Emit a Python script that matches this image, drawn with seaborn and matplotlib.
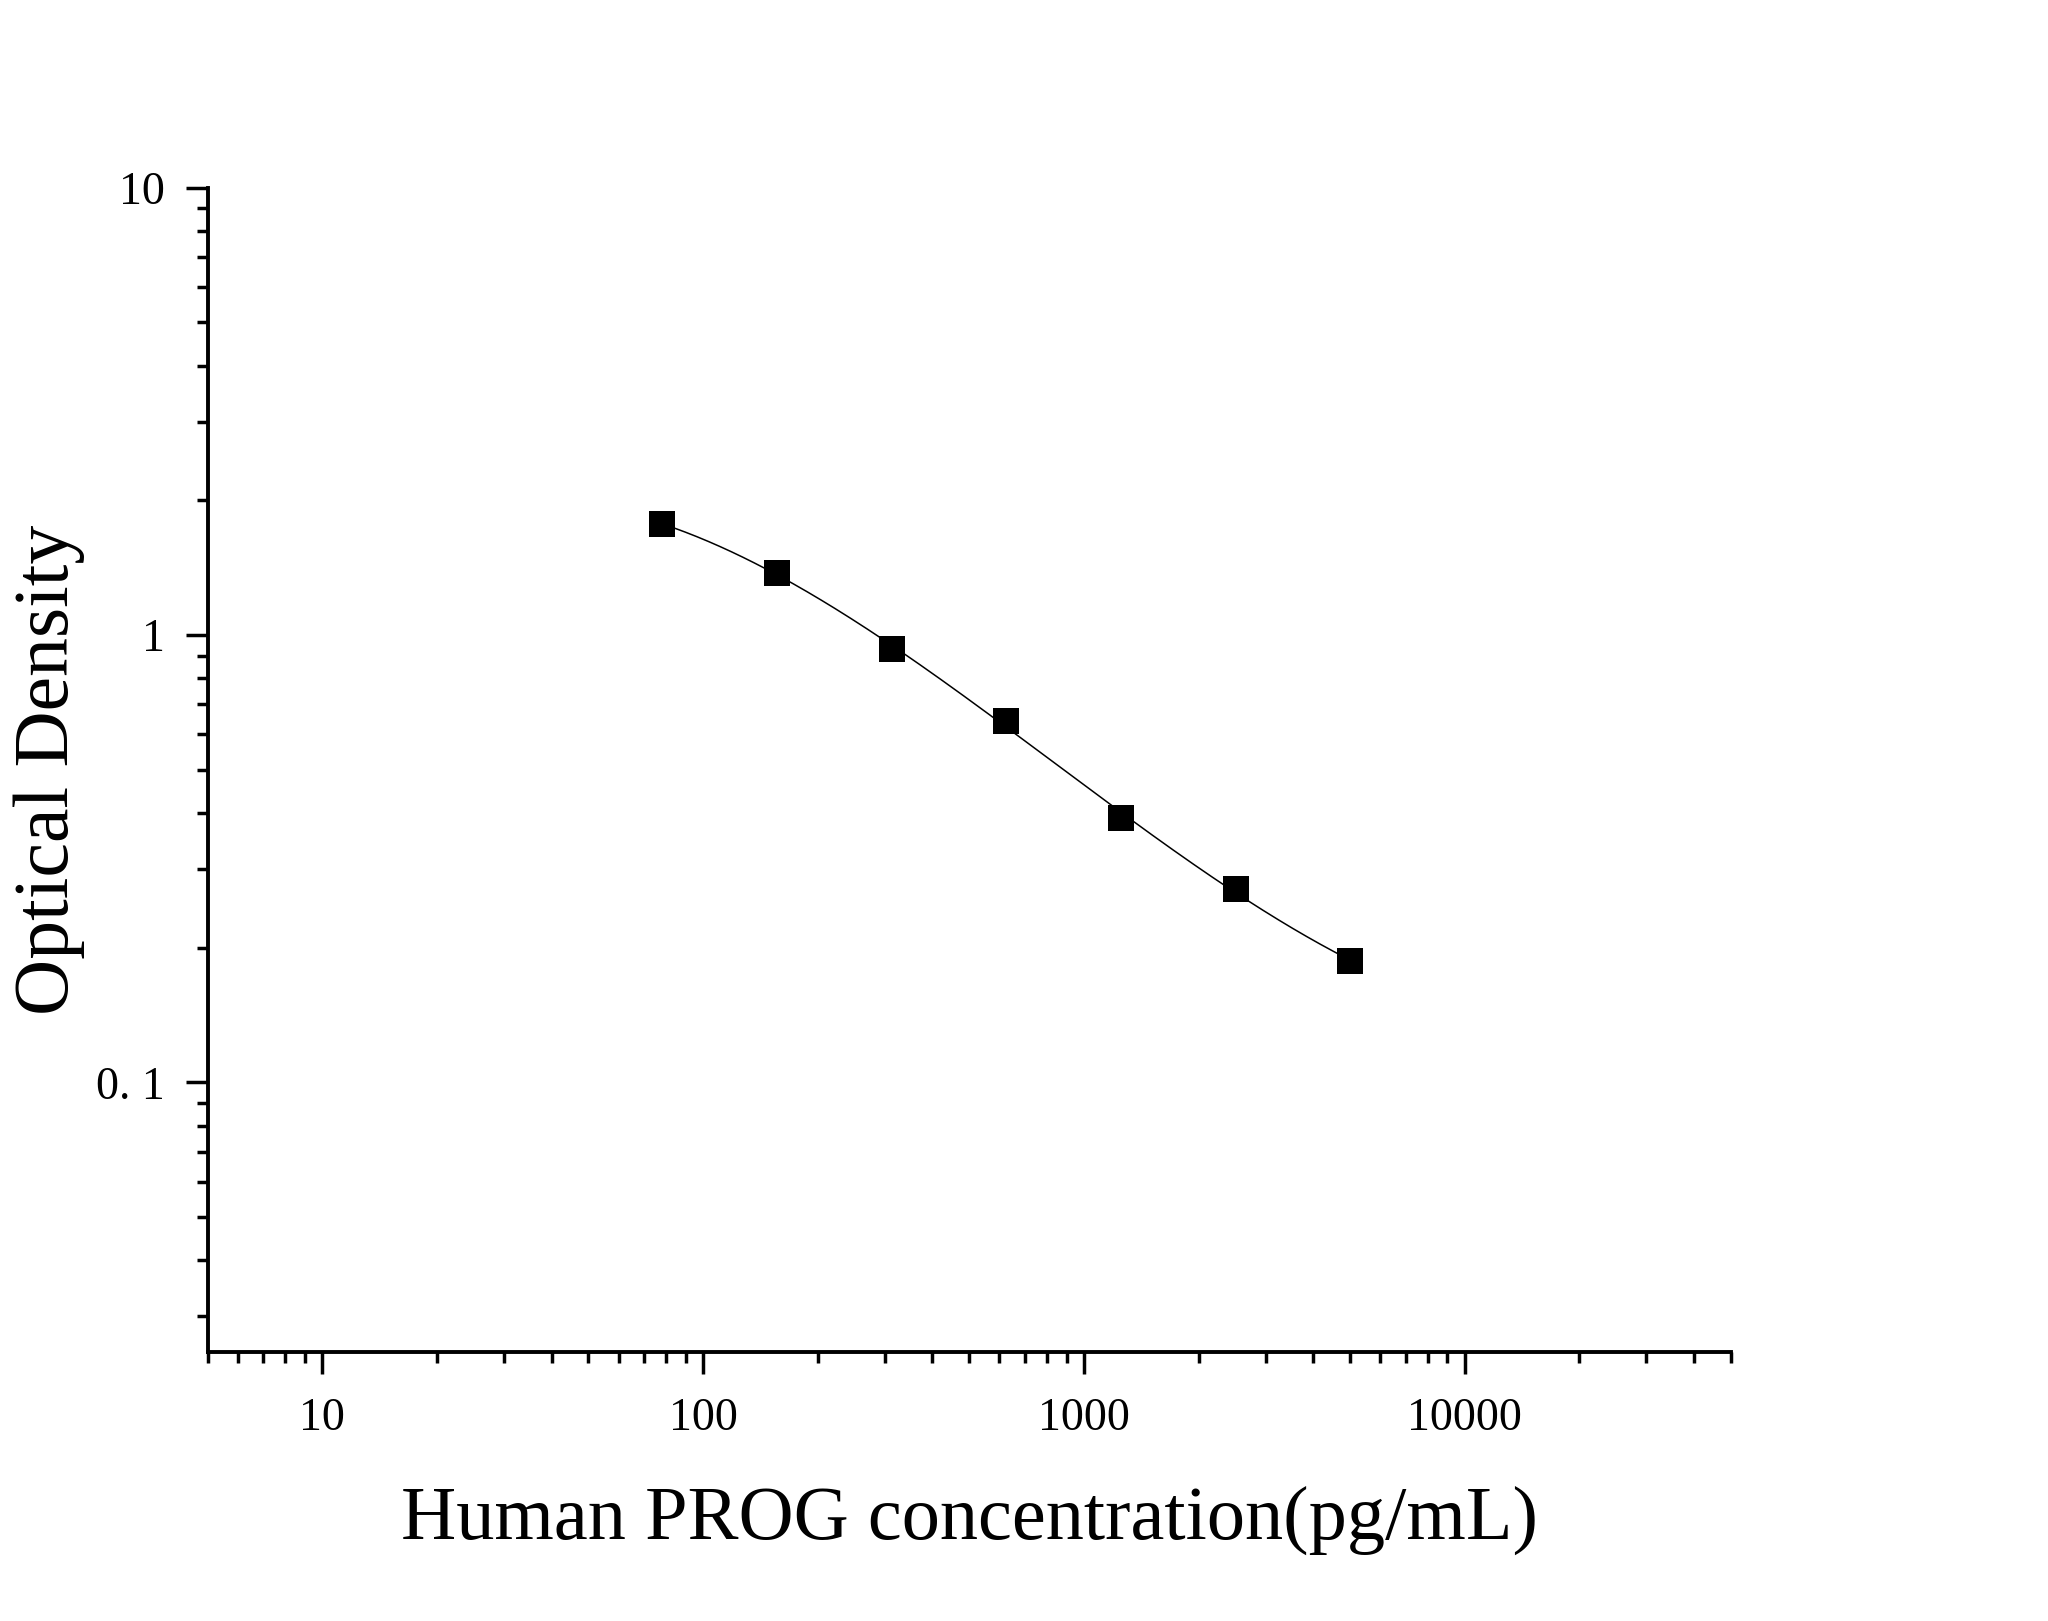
import numpy as np
import pandas as pd
import matplotlib
matplotlib.use('Agg')
import matplotlib.pyplot as plt
import matplotlib.ticker as mticker
import seaborn as sns

# standard curve readings
concentration = [78.125, 156.25, 312.5, 625, 1250, 2500, 5000]
optical_density = [1.769, 1.376, 0.930, 0.642, 0.390, 0.270, 0.187]

x_ticks = [10, 100, 1000, 10000]
x_tick_labels = ['10', '100', '1000', '10000']
y_ticks = [0.1, 1, 10]
y_tick_labels = ['0. 1', '1', '10']


def main():
    sns.set_theme(style='ticks')
    plt.rcParams['font.family'] = ['Liberation Serif', 'DejaVu Serif']

    df = pd.DataFrame({'conc': concentration, 'od': optical_density})

    # smooth fitted curve (cubic in log-log space)
    lx = np.log10(df['conc'])
    ly = np.log10(df['od'])
    coef = np.polyfit(lx, ly, 3)
    grid = np.linspace(lx.min(), lx.max(), 300)
    fit = pd.DataFrame({'conc': 10 ** grid, 'od': 10 ** np.polyval(coef, grid)})

    fig = plt.figure(figsize=(20.48, 16.21), dpi=100)
    ax = fig.add_axes([0.1014, 0.1661, 0.7438, 0.7181])

    sns.lineplot(data=fit, x='conc', y='od', color='black', lw=1.1, ax=ax)
    sns.scatterplot(data=df, x='conc', y='od', marker='s', s=330, color='black',
                    edgecolor='black', linewidth=0, zorder=3, ax=ax)

    ax.set_xscale('log')
    ax.set_yscale('log')
    ax.set_xlim(5, 50000)
    ax.set_ylim(0.025, 10)

    ax.xaxis.set_major_locator(mticker.FixedLocator(x_ticks))
    ax.xaxis.set_major_formatter(mticker.FixedFormatter(x_tick_labels))
    ax.xaxis.set_minor_locator(mticker.LogLocator(base=10, subs=np.arange(2, 10)))
    ax.xaxis.set_minor_formatter(mticker.NullFormatter())
    ax.yaxis.set_major_locator(mticker.FixedLocator(y_ticks))
    ax.yaxis.set_major_formatter(mticker.FixedFormatter(y_tick_labels))
    ax.yaxis.set_minor_locator(mticker.LogLocator(base=10, subs=np.arange(2, 10)))
    ax.yaxis.set_minor_formatter(mticker.NullFormatter())

    for side in ['top', 'right']:
        ax.spines[side].set_visible(False)
    for side in ['left', 'bottom']:
        ax.spines[side].set_linewidth(2.8)
        ax.spines[side].set_color('black')

    ax.tick_params(which='major', direction='out', length=16, width=2.5,
                   color='black', labelsize=33, labelcolor='black')
    ax.tick_params(which='minor', direction='out', length=8, width=2.5, color='black')
    ax.tick_params(axis='x', which='major', pad=17)
    ax.tick_params(axis='y', which='major', pad=15)

    ax.set_xlabel('Human PROG concentration(pg/mL)', fontsize=55, color='black', labelpad=33)
    ax.set_ylabel('Optical Density', fontsize=56, color='black', labelpad=8)
    ax.grid(False)
    ax.set_facecolor('white')
    fig.patch.set_facecolor('white')

    fig.savefig('out.png', dpi=100, facecolor='white')
    plt.close(fig)


if __name__ == '__main__':
    main()
